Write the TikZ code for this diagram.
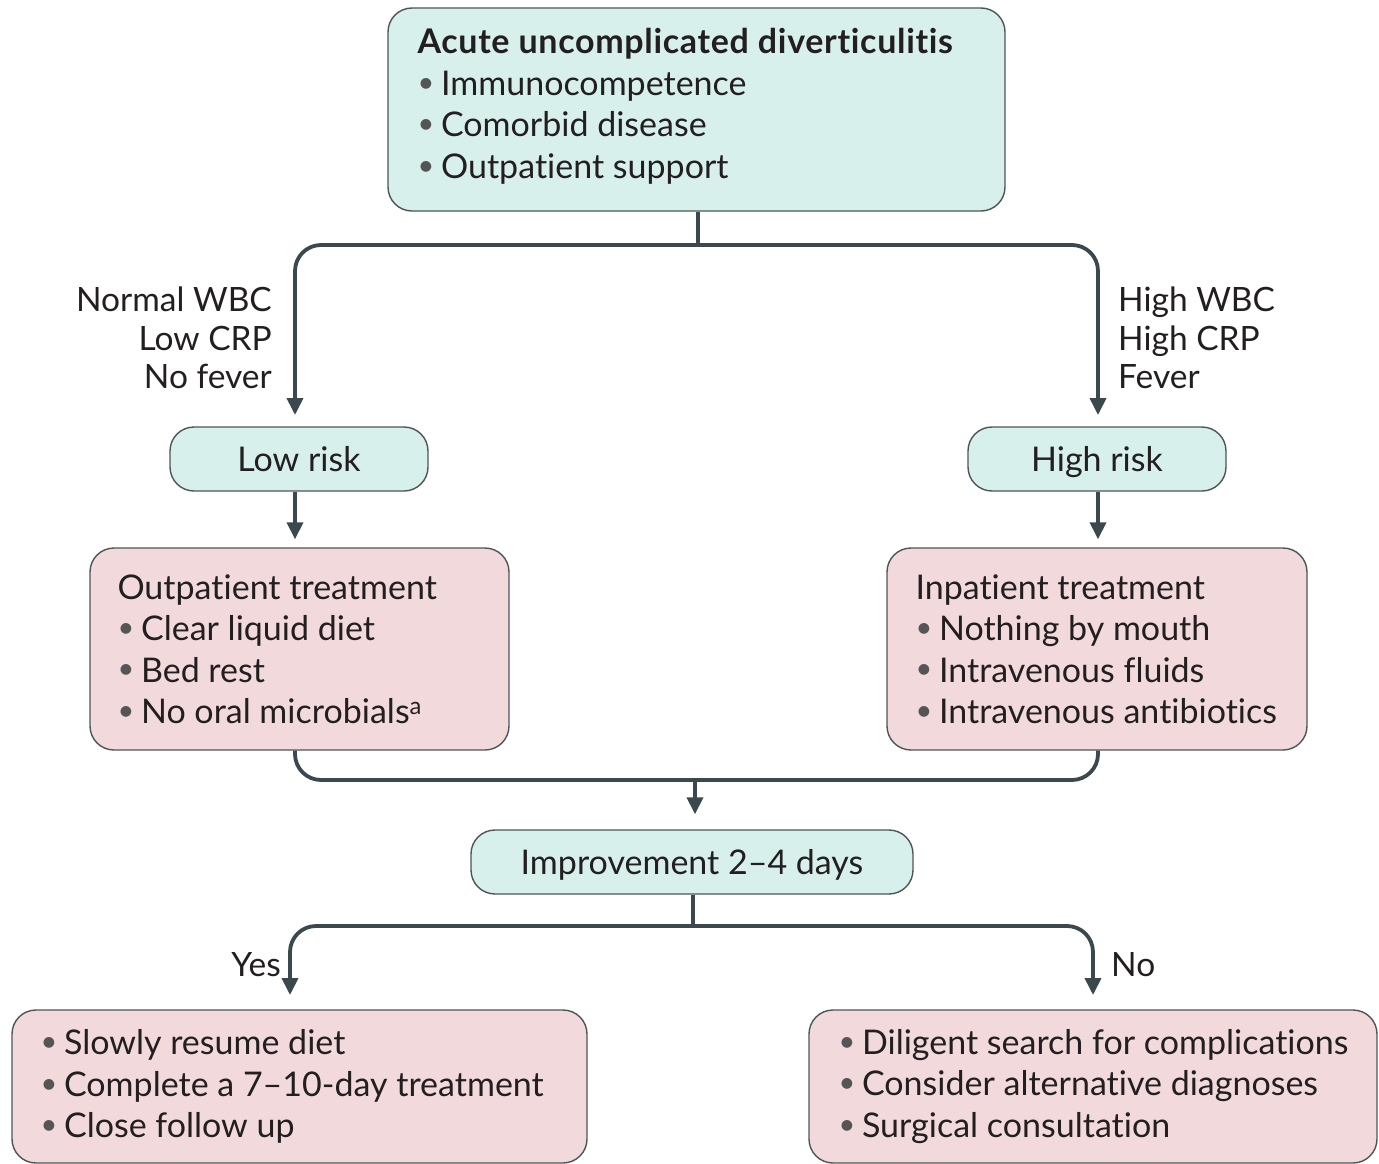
\documentclass[tikz,border=0pt]{standalone}
\usepackage{fontspec}
\setmainfont{Lato}[Ligatures={NoCommon}]
\usetikzlibrary{arrows.meta}
\definecolor{boxteal}{HTML}{D7F0EB}
\definecolor{boxpink}{HTML}{F2DADC}
\definecolor{boxline}{HTML}{4E5558}
\definecolor{connline}{HTML}{3B484D}
\definecolor{txtcol}{HTML}{231F20}
\definecolor{bulcol}{HTML}{555555}
\newcommand{\bul}{{\color{bulcol}\raisebox{0.18ex}{\scalebox{0.85}{•}}}\hspace{0.2em}}
\tikzset{
  basebox/.style={draw=boxline, line width=1.4pt, rounded corners=24pt, inner sep=0pt},
  tealbox/.style={basebox, fill=boxteal},
  pinkbox/.style={basebox, fill=boxpink},
  txt/.style={inner sep=0pt, text=txtcol, align=left, font=\fontsize{34}{41.5}\selectfont},
  pill/.style={tealbox, txt, align=center, minimum height=64pt, text height=30pt, text depth=6pt},
  lbl/.style={inner sep=0pt, text=txtcol, font=\fontsize{33.5}{38.5}\selectfont},
  conn/.style={draw=connline, line width=3.8pt, rounded corners=26pt},
  arr/.style={conn, -{Triangle[length=17pt,width=16pt]}},
}
\begin{document}
\begin{tikzpicture}[x=1pt,y=-1pt]
\useasboundingbox (0,0) rectangle (1379,1164);

% boxes
\node[tealbox, minimum width=617pt, minimum height=203pt] (top) at (696.5,109.5) {};
\node[txt, anchor=west] (toptxt) at ([xshift=30pt,yshift=3pt]top.west)
  {{\bfseries\addfontfeature{LetterSpace=2}Acute uncomplicated diverticulitis}\\\bul Immunocompetence\\\bul Comorbid disease\\\bul Outpatient support};

\node[pill, minimum width=258pt] (low) at (299,459) {Low risk};
\node[pill, minimum width=258pt] (high) at (1097,459) {High risk};

\node[pinkbox, minimum width=419pt, minimum height=202pt] (outp) at (299.5,649) {};
\node[txt, anchor=west] (outptxt) at ([xshift=28pt]outp.west)
  {Outpatient treatment\\\bul Clear liquid diet\\\bul Bed rest\\\bul No oral microbials\textsuperscript{a}};

\node[pinkbox, minimum width=420pt, minimum height=202pt] (inp) at (1097,649) {};
\node[txt, anchor=west] (inptxt) at ([xshift=29pt]inp.west)
  {Inpatient treatment\\\bul Nothing by mouth\\\bul Intravenous fluids\\\bul Intravenous antibiotics};

\node[pill, minimum width=442pt] (imp) at (692,862) {Improvement 2–4 days};

\node[pinkbox, minimum width=575pt, minimum height=153pt] (yesb) at (299.5,1086.5) {};
\node[txt, anchor=west] (yestxt) at ([xshift=29pt]yesb.west)
  {\bul Slowly resume diet\\\bul Complete a 7–10-day treatment\\\bul Close follow up};

\node[pinkbox, minimum width=568pt, minimum height=153pt] (nob) at (1093,1086.5) {};
\node[txt, anchor=west] (notxt) at ([xshift=30pt]nob.west)
  {\bul Diligent search for complications\\\bul Consider alternative diagnoses\\\bul Surgical consultation};

% labels
\node[lbl, align=right, anchor=north east] (lowlbl) at (272,287) {Normal WBC\\Low CRP\\No fever};
\node[lbl, align=left, anchor=north west] (highlbl) at (1118,287) {High WBC\\High CRP\\Fever};
\node[lbl, anchor=base east] (yeslbl) at (281,976) {Yes};
\node[lbl, anchor=base west] (nolbl) at (1111,976) {No};

% connectors
\coordinate (j1) at (698,245);
\coordinate (la) at (295,415);
\coordinate (ha) at (1098,415);
\draw[conn] (top.south -| j1) -- (j1);
\draw[arr] (j1) -| (la);
\draw[arr] (j1) -| (ha);

\draw[arr] (low.south -| la) -- ([yshift=8pt]outp.north -| la);
\draw[arr] (high.south -| ha) -- ([yshift=8pt]inp.north -| ha);

\coordinate (m) at (695,780);
\draw[conn] (outp.south -| la) |- (m) -| (inp.south -| ha);
\draw[arr] (m) -- ([yshift=15pt]imp.north -| m);

\coordinate (j3) at (693,926);
\coordinate (ya) at (290,995);
\coordinate (na) at (1093,995);
\draw[conn] (imp.south -| j3) -- (j3);
\draw[arr] (j3) -| (ya);
\draw[arr] (j3) -| (na);
\end{tikzpicture}
\end{document}
